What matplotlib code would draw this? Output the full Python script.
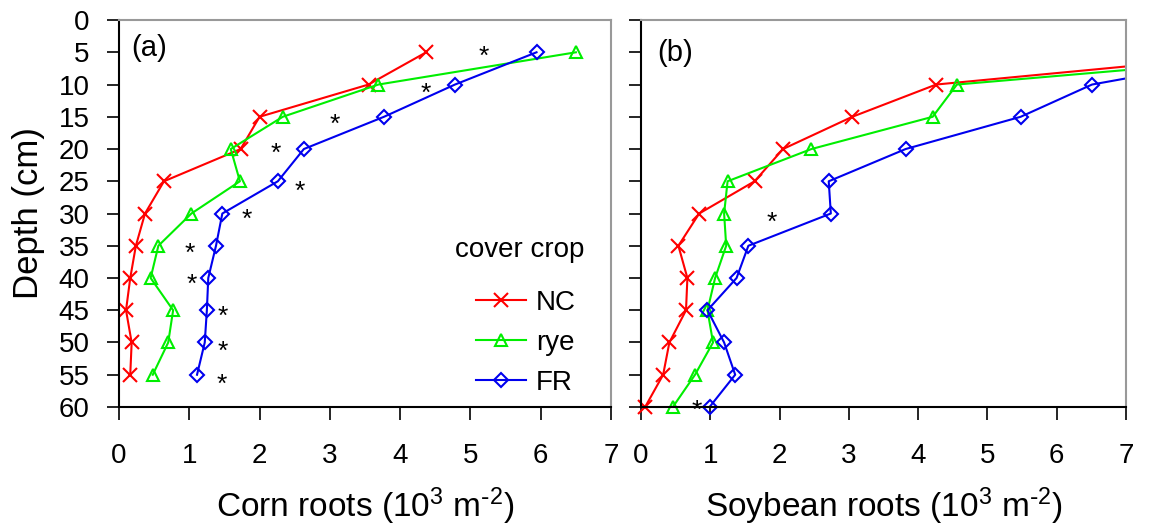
import numpy as np
import matplotlib.pyplot as plt

plt.rcParams['font.family'] = ['Liberation Sans', 'DejaVu Sans']
plt.rcParams['mathtext.default'] = 'regular'

# corn (panel a)
depth_a = [5, 10, 15, 20, 25, 30, 35, 40, 45, 50, 55]
nc_a = [4.37, 3.55, 2.00, 1.73, 0.64, 0.37, 0.24, 0.16, 0.10, 0.18, 0.16]
rye_a = [6.50, 3.69, 2.33, 1.59, 1.72, 1.03, 0.56, 0.45, 0.77, 0.70, 0.48]
fr_a = [5.94, 4.78, 3.77, 2.63, 2.26, 1.47, 1.38, 1.27, 1.25, 1.22, 1.11]
star_a_x = [5.19, 4.37, 3.07, 2.23, 2.57, 1.82, 1.01, 1.03, 1.48, 1.48, 1.46]
star_a_y = [4.8, 10.6, 15.4, 19.8, 25.7, 30.1, 35.4, 40.2, 45.2, 50.5, 55.6]

# soybean (panel b)
depth_b = [5, 10, 15, 20, 25, 30, 35, 40, 45, 50, 55, 60]
nc_b = [9.15, 4.26, 3.05, 2.05, 1.64, 0.84, 0.54, 0.67, 0.65, 0.41, 0.32, 0.06]
rye_b = [9.98, 4.56, 4.21, 2.46, 1.25, 1.20, 1.23, 1.07, 0.96, 1.04, 0.78, 0.46]
fr_b = [9.09, 6.51, 5.48, 3.82, 2.71, 2.74, 1.55, 1.38, 0.96, 1.20, 1.36, 0.99]
star_b_x = [1.89, 0.80]
star_b_y = [30.5, 59.7]

labels = ['NC', 'rye', 'FR']
colors = ['#ff0000', '#00ee00', '#0000ee']
markers = ['x', '^', 'D']
msizes = [9.5, 9, 7]

fig = plt.figure(figsize=(11.52, 5.25), dpi=100)
ax1 = fig.add_axes([0.1033, 0.2248, 0.4271, 0.737])
ax2 = fig.add_axes([0.5564, 0.2248, 0.4210, 0.737])


def draw(ax, depth, series, sx, sy, xlabel):
    for vals, lab, c, m, ms in zip(series, labels, colors, markers, msizes):
        ax.plot(vals, depth, color=c, lw=1.5, label=lab)
        v = np.array(vals)
        d = np.array(depth)
        keep = v <= 7
        ax.plot(v[keep], d[keep], ls='none', marker=m, ms=ms, mfc='none',
                mec=c, mew=1.5, clip_on=False)
    for x, y in zip(sx, sy):
        ax.text(x, y + 0.9, '*', fontsize=19, ha='center', va='center')
    ax.set_xlim(0, 7)
    ax.set_ylim(60, 0)
    ax.set_xticks(range(8))
    ax.set_yticks(range(0, 61, 5))
    ax.tick_params(direction='out', length=9, width=1.2, labelsize=20)
    ax.tick_params(axis='x', pad=17)
    ax.tick_params(axis='y', pad=12)
    for s in ['top', 'right']:
        ax.spines[s].set_color('#999999')
        ax.spines[s].set_linewidth(1.5)
    for s in ['left', 'bottom']:
        ax.spines[s].set_linewidth(1.5)
    ax.set_xlabel(xlabel, fontsize=24, labelpad=12)


draw(ax1, depth_a, [nc_a, rye_a, fr_a], star_a_x, star_a_y,
     r'Corn roots (10$^3$ m$^{\text{-}2}$)')
draw(ax2, depth_b, [nc_b, rye_b, fr_b], star_b_x, star_b_y,
     r'Soybean roots (10$^3$ m$^{\text{-}2}$)')
ax1.text(0.024, 0.965, '(a)', transform=ax1.transAxes, fontsize=21, va='top')
ax2.text(0.034, 0.95, '(b)', transform=ax2.transAxes, fontsize=21, va='top')
ax1.set_ylabel('Depth (cm)', fontsize=25, labelpad=10)
ax2.tick_params(axis='y', labelleft=False)

handles = [plt.Line2D([], [], color=c, lw=1.5, marker=m, ms=ms, mfc='none', mec=c, mew=1.5)
           for c, m, ms in zip(colors, markers, msizes)]
ax1.legend(handles, labels, loc='lower right', bbox_to_anchor=(0.98, -0.035),
           frameon=False, fontsize=20, handlelength=1.8, labelspacing=0.5,
           handletextpad=0.35)
ax1.text(0.815, 0.405, 'cover crop', transform=ax1.transAxes, fontsize=20,
         ha='center', va='center')

fig.savefig('out.png', dpi=100)
